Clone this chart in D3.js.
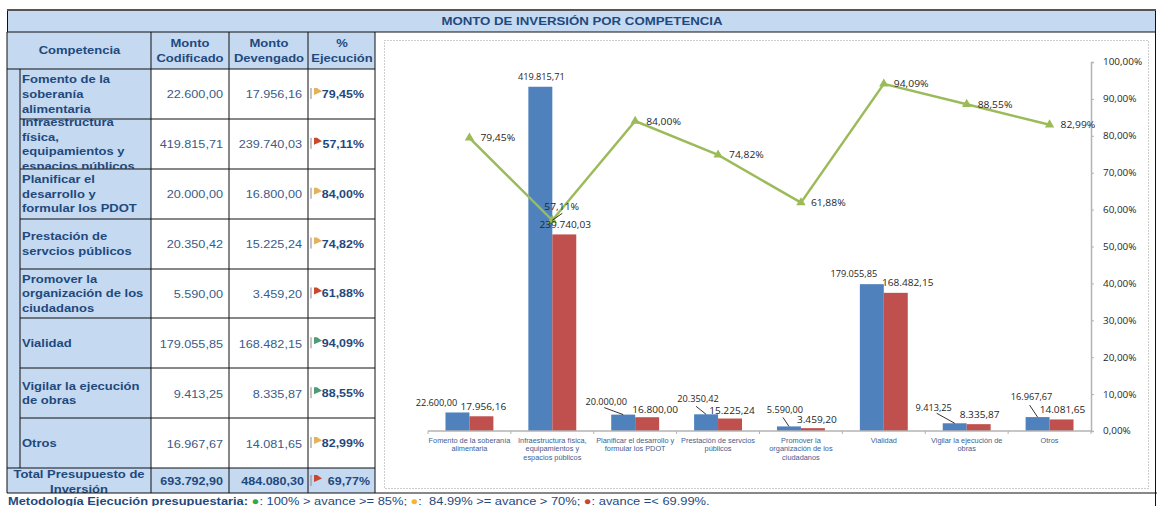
<!DOCTYPE html>
<html>
<head>
<meta charset="utf-8">
<script src="https://cdn.jsdelivr.net/npm/d3@7"></script>
<style>
  html, body { margin: 0; padding: 0; background: #fff; overflow: hidden; }
  svg { display: block; }
  text { font-family: "Liberation Sans", Arial, sans-serif; }
  .chartLabel { font-family: "Open Sans", sans-serif; font-size: 9.2px; fill: #262626; }
</style>
</head>
<body>
<div id="chart"></div>
<script>
var categories = ["Fomento", "Infraestructura", "Planificar", "Prestacion", "Promover", "Vialidad", "Vigilar", "Otros"];
var rowLabels = [
    ["Fomento de la", "soberanía", "alimentaria"],
    ["Infraestructura", "física,", "equipamientos y", "espacios públicos"],
    ["Planificar el", "desarrollo y", "formular los PDOT"],
    ["Prestación de", "servcios públicos"],
    ["Promover la", "organización de los", "ciudadanos"],
    ["Vialidad"],
    ["Vigilar la ejecución", "de obras"],
    ["Otros"]
];
var axisLabels = [
    ["Fomento de la soberanía", "alimentaria"],
    ["Infraestructura física,", "equipamientos y", "espacios públicos"],
    ["Planificar el desarrollo y", "formular los PDOT"],
    ["Prestación de servcios", "públicos"],
    ["Promover la", "organización de los", "ciudadanos"],
    ["Vialidad"],
    ["Vigilar la ejecución de", "obras"],
    ["Otros"]
];
var codificado = [22600.00, 419815.71, 20000.00, 20350.42, 5590.00, 179055.85, 9413.25, 16967.67];
var devengado = [17956.16, 239740.03, 16800.00, 15225.24, 3459.20, 168482.15, 8335.87, 14081.65];
var ejecucion = [79.45, 57.11, 84.00, 74.82, 61.88, 94.09, 88.55, 82.99];
var totalLabel = ["Total Presupuesto de", "Inversión"];
var totalCodificado = 693792.90;
var totalDevengado = 484080.30;
var totalEjecucion = 69.77;
var pctTicks = [0, 10, 20, 30, 40, 50, 60, 70, 80, 90, 100];

// hand placed data labels, offsets from the top of each bar
var blueOffset = [[-21, -9.5], [1, -10], [-17, -13], [-8, -15], [-4, -16], [-18, -10], [-21, -15], [-6, -20]];
var redOffset = [[2, -9], [1, -9], [8, -7], [2, -7.5], [4, -8], [12, -10], [1, -9], [1, -9.5]];
var pctOffset = [[11, 0], [-8, -13], [11, 1], [11, 0], [10, 0], [10, 0], [11, 1], [11, 0]];
var leaderStart = [null, null, [-2, 6], [-2, 7], [-2, 7], null, [3, 5], [-2, 8]];

var width = 1157, height = 506;
var fillBlue = "#c5d9f1", textBlue = "#1f497d", valueBlue = "#3b5b88";

var locale = d3.formatLocale({decimal: ",", thousands: ".", grouping: [3]});
var money = locale.format(",.2f");
var pct = function(v) { return locale.format(".2f")(v) + "%"; };

// the source text is a stretched screenshot, so widen the glyphs to fit
function stretch(sel, k) {
    sel.each(function() {
        d3.select(this)
            .attr("textLength", this.getComputedTextLength() * k)
            .attr("lengthAdjust", "spacingAndGlyphs");
    });
    return sel;
}

function flagColor(v) {
    if (v >= 85) return "#4f9a78";
    if (v >= 70) return "#e2b25f";
    return "#c9472c";
}

var svg = d3.select("#chart").append("svg")
    .attr("width", width)
    .attr("height", height);

var defs = svg.append("defs");

// ---- table ----
var cols = [7, 151, 229, 308, 375];
var rowY = d3.scaleBand().domain(categories).range([69, 468]);
var tbl = svg.append("g");

tbl.append("rect").attr("x", 7).attr("y", 10).attr("width", 1148).attr("height", 22).attr("fill", fillBlue);
tbl.append("rect").attr("x", 7).attr("y", 32).attr("width", 368).attr("height", 37).attr("fill", fillBlue);
tbl.append("rect").attr("x", 7).attr("y", 69).attr("width", 144).attr("height", 399).attr("fill", fillBlue);
tbl.append("rect").attr("x", 7).attr("y", 468).attr("width", 368).attr("height", 25).attr("fill", fillBlue);

stretch(tbl.append("text")
    .attr("x", 582).attr("y", 25)
    .attr("text-anchor", "middle")
    .attr("font-size", 11.5).attr("font-weight", "bold").attr("fill", textBlue)
    .text("MONTO DE INVERSIÓN POR COMPETENCIA"), 1.15);

function headCell(x, lines) {
    lines.forEach(function(l, i) {
        stretch(tbl.append("text")
            .attr("x", x)
            .attr("y", lines.length == 1 ? 54 : 47 + i * 15)
            .attr("text-anchor", "middle")
            .attr("font-size", 11.5).attr("font-weight", "bold").attr("fill", textBlue)
            .text(l), 1.13);
    });
}
headCell(79.5, ["Competencia"]);
headCell(190, ["Monto", "Codificado"]);
headCell(269, ["Monto", "Devengado"]);
headCell(342, ["%", "Ejecución"]);

function flag(x, cy, v) {
    tbl.append("line")
        .attr("x1", x).attr("x2", x).attr("y1", cy - 6).attr("y2", cy + 5)
        .attr("stroke", "#8a8a8a");
    tbl.append("path")
        .attr("d", d3.line()([[x + 3, cy - 6], [x + 6, cy - 6], [x + 11, cy - 2.5], [x + 3, cy + 1]]) + "Z")
        .attr("fill", flagColor(v));
}

categories.forEach(function(c, i) {
    var y0 = rowY(c), h = rowY.bandwidth(), cy = y0 + h / 2;

    defs.append("clipPath").attr("id", "row" + i)
        .append("rect").attr("x", 20).attr("y", y0).attr("width", 131).attr("height", h);

    var lines = rowLabels[i];
    var lh = 14.6;
    var g = tbl.append("g").attr("clip-path", "url(#row" + i + ")");
    lines.forEach(function(l, j) {
        stretch(g.append("text")
            .attr("x", 22)
            .attr("y", cy + (j - (lines.length - 1) / 2) * lh + 4)
            .attr("font-size", 11.5).attr("font-weight", "bold").attr("fill", textBlue)
            .text(l), 1.13);
    });

    stretch(tbl.append("text").attr("x", 223).attr("y", cy + 4.5).attr("text-anchor", "end")
        .attr("font-size", 11.5).attr("fill", valueBlue).text(money(codificado[i])), 1.1);
    stretch(tbl.append("text").attr("x", 302).attr("y", cy + 4.5).attr("text-anchor", "end")
        .attr("font-size", 11.5).attr("fill", valueBlue).text(money(devengado[i])), 1.1);
    stretch(tbl.append("text").attr("x", 364).attr("y", cy + 4).attr("text-anchor", "end")
        .attr("font-size", 11.5).attr("font-weight", "bold").attr("fill", textBlue).text(pct(ejecucion[i])), 1.08);
    flag(311, cy, ejecucion[i]);
});

// total row
totalLabel.forEach(function(l, i) {
    stretch(tbl.append("text")
        .attr("x", 79).attr("y", 478 + i * 15)
        .attr("text-anchor", "middle")
        .attr("font-size", 11.5).attr("font-weight", "bold").attr("fill", textBlue)
        .text(l), 1.13);
});
stretch(tbl.append("text").attr("x", 223).attr("y", 485).attr("text-anchor", "end")
    .attr("font-size", 11.5).attr("font-weight", "bold").attr("fill", textBlue).text(money(totalCodificado)), 1.09);
stretch(tbl.append("text").attr("x", 304).attr("y", 485).attr("text-anchor", "end")
    .attr("font-size", 11.5).attr("font-weight", "bold").attr("fill", textBlue).text(money(totalDevengado)), 1.09);
stretch(tbl.append("text").attr("x", 370).attr("y", 485).attr("text-anchor", "end")
    .attr("font-size", 11.5).attr("font-weight", "bold").attr("fill", textBlue).text(pct(totalEjecucion)), 1.08);
flag(311, 481, totalEjecucion);

// grid lines go on top of the cell text
var rules = tbl.append("g").attr("stroke", "#111").attr("stroke-width", 1);
categories.forEach(function(c, i) {
    if (i > 0) {
        rules.append("line").attr("x1", 20).attr("x2", 375)
            .attr("y1", Math.round(rowY(c))).attr("y2", Math.round(rowY(c)));
    }
});
[[7, 1155, 32, 32], [7, 375, 69, 69], [7, 375, 468, 468], [7, 1157, 493, 493]].forEach(function(r) {
    rules.append("line").attr("x1", r[0]).attr("x2", r[1]).attr("y1", r[2]).attr("y2", r[3]);
});
cols.forEach(function(x) {
    rules.append("line").attr("x1", x).attr("x2", x).attr("y1", 32).attr("y2", 493);
});
rules.append("line").attr("x1", 20).attr("x2", 20).attr("y1", 69).attr("y2", 468);
rules.append("line").attr("x1", 7.5).attr("x2", 7.5).attr("y1", 10).attr("y2", 32);
rules.append("line").attr("x1", 1155.5).attr("x2", 1155.5).attr("y1", 10).attr("y2", 506);
tbl.append("line").attr("x1", 7).attr("x2", 1156).attr("y1", 10).attr("y2", 10)
    .attr("stroke", "#555").attr("stroke-width", 2);

// footer
var foot = svg.append("text")
    .attr("transform", "translate(8,505) scale(1.12,1)")
    .attr("font-size", 11.5).attr("fill", textBlue);
foot.append("tspan").attr("font-weight", "bold").text("Metodología Ejecución presupuestaria: ");
foot.append("tspan").attr("fill", "#2fa84f").attr("font-weight", "bold").text("●");
foot.append("tspan").text(": 100% > avance >= 85%; ");
foot.append("tspan").attr("fill", "#f2b632").attr("font-weight", "bold").text("●");
foot.append("tspan").text(":\u00a0 84.99% >= avance > 70%; ");
foot.append("tspan").attr("fill", "#c9472c").attr("font-weight", "bold").text("●");
foot.append("tspan").text(": avance =< 69.99%.");

// ---- chart ----
svg.append("rect")
    .attr("x", 384.5).attr("y", 40.5).attr("width", 764).attr("height", 448)
    .attr("fill", "none").attr("stroke", "#9a9a9a").attr("stroke-dasharray", "1,2");

var x0 = d3.scaleBand().domain(categories).range([428, 1091]);
var x1 = d3.scaleBand().domain(["cod", "dev"]).range([0, x0.bandwidth()]).paddingOuter(0.73);
var yMoney = d3.scaleLinear().domain([0, 450000]).range([431, 62]);
var yPct = d3.scaleLinear().domain([0, 100]).range([431, 62]);

var plot = svg.append("g");

plot.selectAll(".barCod").data(codificado).enter().append("rect")
    .attr("class", "barCod")
    .attr("x", function(d, i) { return x0(categories[i]) + x1("cod"); })
    .attr("width", x1.bandwidth())
    .attr("y", function(d) { return yMoney(d); })
    .attr("height", function(d) { return 431 - yMoney(d); })
    .attr("fill", "#4f81bd");

plot.selectAll(".barDev").data(devengado).enter().append("rect")
    .attr("class", "barDev")
    .attr("x", function(d, i) { return x0(categories[i]) + x1("dev"); })
    .attr("width", x1.bandwidth())
    .attr("y", function(d) { return yMoney(d); })
    .attr("height", function(d) { return 431 - yMoney(d); })
    .attr("fill", "#c0504d");

// category axis, ticks sit on the band edges
plot.append("line").attr("x1", 428).attr("x2", 1091).attr("y1", 431).attr("y2", 431)
    .attr("stroke", "#b3b3b3").attr("stroke-width", 1.5);
plot.selectAll(".catTick").data(categories.concat(["end"])).enter().append("line")
    .attr("class", "catTick")
    .attr("x1", function(d, i) { return 428 + i * x0.step(); })
    .attr("x2", function(d, i) { return 428 + i * x0.step(); })
    .attr("y1", 431).attr("y2", 434)
    .attr("stroke", "#b3b3b3");

categories.forEach(function(c, i) {
    axisLabels[i].forEach(function(l, j) {
        stretch(plot.append("text")
            .attr("x", x0(c) + x0.bandwidth() / 2)
            .attr("y", 442.5 + j * 8.5)
            .attr("text-anchor", "middle")
            .attr("font-size", 6.4).attr("fill", "#44608f")
            .text(l), 1.15);
    });
});

// percentage axis on the right
var yAxis = d3.axisRight(yPct)
    .tickValues(pctTicks)
    .tickSize(3)
    .tickPadding(9)
    .tickFormat(function(d) { return pct(d); });
var yg = plot.append("g").attr("transform", "translate(1091,0)").call(yAxis);
yg.select(".domain").attr("stroke", "#b3b3b3").attr("stroke-width", 1.5);
yg.selectAll(".tick line").attr("stroke", "#b3b3b3");
stretch(yg.selectAll("text").attr("class", "chartLabel").attr("fill", "#262626"), 1.08);

// ejecucion line
var cx = function(i) { return x0(categories[i]) + x0.bandwidth() / 2; };
var line = d3.line()
    .x(function(d, i) { return cx(i); })
    .y(function(d) { return yPct(d); });

plot.append("path").datum(ejecucion)
    .attr("d", line)
    .attr("fill", "none")
    .attr("stroke", "#9bbb59")
    .attr("stroke-width", 2.5);

plot.selectAll(".marker").data(ejecucion).enter().append("path")
    .attr("class", "marker")
    .attr("d", d3.symbol().type(d3.symbolTriangle).size(38))
    .attr("transform", function(d, i) { return "translate(" + cx(i) + "," + yPct(d) + ")"; })
    .attr("fill", "#9bbb59");

// data labels
function barLabel(values, series, offsets, k) {
    values.forEach(function(v, i) {
        var bx = x0(categories[i]) + x1(series) + x1.bandwidth() / 2;
        stretch(plot.append("text")
            .attr("class", "chartLabel")
            .attr("x", bx + offsets[i][0])
            .attr("y", yMoney(v) + offsets[i][1] + 3)
            .attr("text-anchor", "middle")
            .text(money(v)), k);
    });
}
barLabel(codificado, "cod", blueOffset, 1);
barLabel(devengado, "dev", redOffset, 1.1);

codificado.forEach(function(v, i) {
    if (!leaderStart[i]) return;
    var bx = x0(categories[i]) + x1("cod") + x1.bandwidth() / 2;
    plot.append("line")
        .attr("x1", bx + blueOffset[i][0] + leaderStart[i][0])
        .attr("y1", yMoney(v) + blueOffset[i][1] + leaderStart[i][1])
        .attr("x2", bx).attr("y2", yMoney(v))
        .attr("stroke", "#000").attr("stroke-width", 0.8);
});

ejecucion.forEach(function(v, i) {
    stretch(plot.append("text")
        .attr("class", "chartLabel")
        .attr("x", cx(i) + pctOffset[i][0])
        .attr("y", yPct(v) + pctOffset[i][1] + 3)
        .text(pct(v)), 1.12);
});
// leader for the 57,11% label
plot.append("line")
    .attr("x1", cx(1) + 10).attr("y1", yPct(ejecucion[1]) - 7)
    .attr("x2", cx(1)).attr("y2", yPct(ejecucion[1]))
    .attr("stroke", "#000").attr("stroke-width", 0.8);
</script>
</body>
</html>
